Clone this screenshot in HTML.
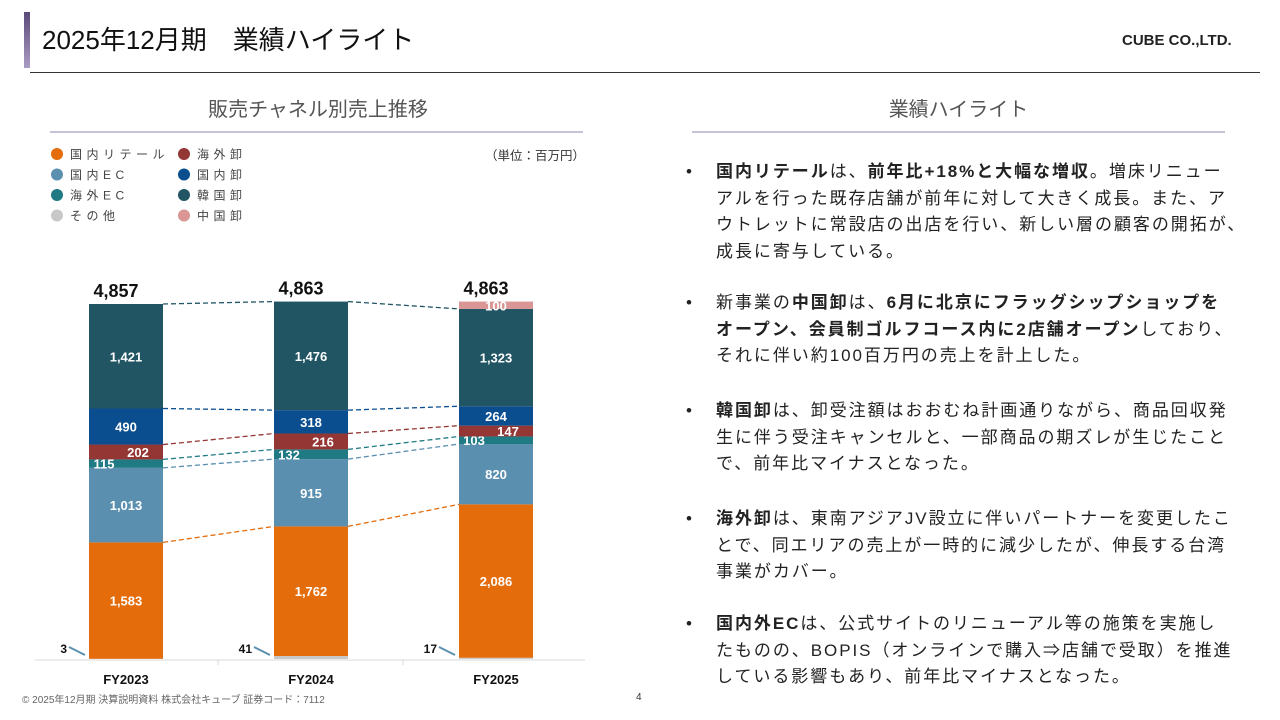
<!DOCTYPE html>
<html><head><meta charset="utf-8">
<style>
body{margin:0;width:1280px;height:720px;background:#fff;position:relative;overflow:hidden;font-family:"Liberation Sans","Noto Sans CJK JP",sans-serif;color:#222}
.abs{position:absolute}
.bul{position:absolute;left:686px;width:580px;font-size:17px;line-height:26.7px;letter-spacing:1.95px;color:#222;white-space:nowrap}
.bul .dot{position:absolute;left:0;top:0}
.bul .tx{margin-left:30px}
b{font-weight:bold}
</style></head><body>
<div class="abs" style="left:24px;top:12px;width:6px;height:56px;background:linear-gradient(#5a4a7a,#a99cc4)"></div>
<div class="abs" style="left:42px;top:20px;font-size:26px;color:#111">2025年12月期　業績ハイライト</div>
<div class="abs" style="left:1122px;top:32px;font-size:15px;font-weight:bold">CUBE CO.,LTD.</div>
<div class="abs" style="left:30px;top:72px;width:1230px;height:1px;background:#333"></div>
<div class="abs" style="left:53px;width:530px;top:93px;text-align:center;font-size:20px;color:#555">販売チャネル別売上推移</div>
<div class="abs" style="left:50px;top:131px;width:533px;height:2px;background:#c8c2d8"></div>
<div class="abs" style="left:692px;width:533px;top:93px;text-align:center;font-size:20px;color:#555">業績ハイライト</div>
<div class="abs" style="left:692px;top:131px;width:533px;height:2px;background:#c8c2d8"></div>
<div class="abs" style="left:485px;top:145px;font-size:12.5px;color:#333">（単位：百万円）</div>

<svg class="abs" style="left:0;top:0" width="1280" height="720" id="chart"></svg>

<div class="bul" style="top:159px"><span class="dot">•</span><div class="tx"><b>国内リテール</b>は、<b>前年比+18%と大幅な増収</b>。増床リニュー<br>アルを行った既存店舗が前年に対して大きく成長。また、ア<br>ウトレットに常設店の出店を行い、新しい層の顧客の開拓が、<br>成長に寄与している。</div></div>
<div class="bul" style="top:290px"><span class="dot">•</span><div class="tx">新事業の<b>中国卸</b>は、<b>6月に北京にフラッグシップショップを</b><br><b>オープン、会員制ゴルフコース内に2店舗オープン</b>しており、<br>それに伴い約100百万円の売上を計上した。</div></div>
<div class="bul" style="top:398px"><span class="dot">•</span><div class="tx"><b>韓国卸</b>は、卸受注額はおおむね計画通りながら、商品回収発<br>生に伴う受注キャンセルと、一部商品の期ズレが生じたこと<br>で、前年比マイナスとなった。</div></div>
<div class="bul" style="top:506px"><span class="dot">•</span><div class="tx"><b>海外卸</b>は、東南アジアJV設立に伴いパートナーを変更したこ<br>とで、同エリアの売上が一時的に減少したが、伸長する台湾<br>事業がカバー。</div></div>
<div class="bul" style="top:611px"><span class="dot">•</span><div class="tx"><b>国内外EC</b>は、公式サイトのリニューアル等の施策を実施し<br>たものの、BOPIS（オンラインで購入⇒店舗で受取）を推進<br>している影響もあり、前年比マイナスとなった。</div></div>

<div class="abs" style="left:22px;top:691px;font-size:10px;color:#666">© 2025年12月期 決算説明資料 株式会社キューブ 証券コード：7112</div>
<div class="abs" style="left:636px;top:692px;font-size:10px;color:#333">4</div>

<script>
const categories=["FY2023","FY2024","FY2025"];
const seriesNames=["その他","国内リテール","国内EC","海外EC","海外卸","国内卸","韓国卸","中国卸"];
const other=[3,41,17];
const retail=[1583,1762,2086];
const domesticEC=[1013,915,820];
const overseasEC=[115,132,103];
const overseasWholesale=[202,216,147];
const domesticWholesale=[490,318,264];
const koreaWholesale=[1421,1476,1323];
const chinaWholesale=[0,0,100];
const totals=["4,857","4,863","4,863"];
const series=[other,retail,domesticEC,overseasEC,overseasWholesale,domesticWholesale,koreaWholesale,chinaWholesale];
const colors=["#c8c8c8","#e46c0a","#5b8fb0","#1f7a84","#933634","#0b4e8f","#215563","#d99694"];
const lineColors=[null,"#e46c0a","#5b8fb0","#1f7a84","#933634","#0b4e8f","#215563",null];
const legendOrder=[[1,"国内リテール"],[4,"海外卸"],[2,"国内EC"],[5,"国内卸"],[3,"海外EC"],[6,"韓国卸"],[0,"その他"],[7,"中国卸"]];

const svg=document.getElementById('chart');
const NS="http://www.w3.org/2000/svg";
const baseY=659, scale=355/4827, barW=74;
const xCenter=i=>126+i*185;
const yOf=v=>baseY-v*scale;
function mk(tag,attrs){const e=document.createElementNS(NS,tag);for(const k in attrs)e.setAttribute(k,attrs[k]);svg.appendChild(e);return e;}

legendOrder.forEach((p,k)=>{
  const col=k%2,row=Math.floor(k/2);
  const x=57+col*127,y=154+row*20.5;
  const c=mk('circle',{cx:x,cy:y,r:6,fill:colors[p[0]]});
  
  
  const t=mk('text',{x:x+13,y:y+4.5,'font-size':12,fill:'#444','letter-spacing':'4.5'});
  t.textContent=p[1];
  
  
});

const ax=mk('line',{x1:35,x2:585,y1:baseY+1,y2:baseY+1,stroke:'#d9d9d9','stroke-width':1});


[218,403].forEach(x=>{const l=mk('line',{x1:x,x2:x,y1:baseY+1,y2:baseY+6,stroke:'#d9d9d9'});

});

const tops=categories.map(()=>[]);
const labelDx=[0,0,0,-22,12,0,0,0];
categories.forEach((cat,i)=>{
  let cum=0;
  series.forEach((s,j)=>{
    const v=s[i];const y0=yOf(cum);cum+=v;const y1=yOf(cum);
    tops[i][j]=y1;
    if(v<=0)return;
    const r=mk('rect',{x:xCenter(i)-barW/2,y:y1,width:barW,height:y0-y1,fill:colors[j]});
    
    
    if(j===0){
      const ly=mk('line',{x1:xCenter(i)-barW/2-20,y1:baseY-12,x2:xCenter(i)-barW/2-4,y2:baseY-4,stroke:'#5b8fb0','stroke-width':2});
      
      
      const t=mk('text',{x:xCenter(i)-barW/2-22,y:baseY-6,'text-anchor':'end','font-size':12,'font-weight':'bold',fill:'#111'});
      t.textContent=v;
      
      
    } else {
      const t=mk('text',{x:xCenter(i)+labelDx[j],y:(y0+y1)/2+5,'text-anchor':'middle','font-size':13,'font-weight':'bold',fill:'#fff'});
      t.textContent=v.toLocaleString('en-US');
      
      
    }
  });
  const tt=mk('text',{x:xCenter(i)-10,y:yOf(cum)-7,'text-anchor':'middle','font-size':18,'font-weight':'bold',fill:'#111'});
  tt.textContent=totals[i];
  
  
  const cl=mk('text',{x:xCenter(i),y:baseY+25,'text-anchor':'middle','font-size':13,'font-weight':'bold',fill:'#111'});
  cl.textContent=cat;
  
  
});
for(let i=0;i<categories.length-1;i++){
  [1,2,3,4,5,6].forEach(j=>{
    const l=mk('line',{x1:xCenter(i)+barW/2,y1:tops[i][j],x2:xCenter(i+1)-barW/2,y2:tops[i+1][j],stroke:lineColors[j],'stroke-width':1.3,'stroke-dasharray':'5,3'});
    
    
  });
}
</script>
</body></html>
